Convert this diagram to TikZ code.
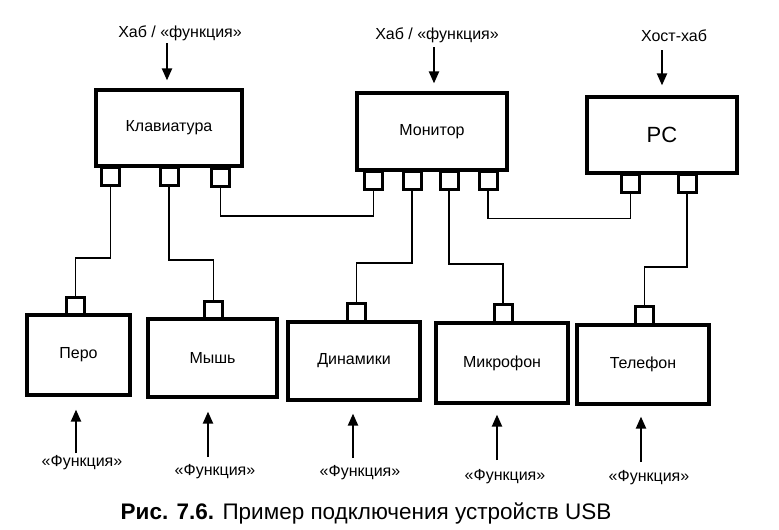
\documentclass[tikz,border=0pt]{standalone}
\usepackage{fontspec}
\setmainfont{Liberation Sans}
\usetikzlibrary{arrows.meta}
\tikzset{
  dev/.style={draw, line width=3.2pt, inner sep=0pt, font=\fontsize{16}{19}\selectfont},
  port/.style={draw, line width=3pt, minimum width=18pt, minimum height=18pt, inner sep=0pt},
  conn/.style={line width=1.7pt},
  feed/.style={line width=2.1pt, -{Triangle[width=10pt,length=12pt]}},
  lbl/.style={font=\fontsize{16}{19}\selectfont, inner sep=0pt},
}
\begin{document}
\begin{tikzpicture}[x=1pt,y=-1pt]
\useasboundingbox[fill=white] (0,0) rectangle (779,530);
% hubs
\node[dev, minimum width=146pt, minimum height=76pt] (kb) at (169,128) {Клавиатура};
\node[dev, minimum width=150pt, minimum height=77pt] (mon) at (432,131.5) {Монитор};
\node[dev, minimum width=150pt, minimum height=76pt, font=\fontsize{22}{26}\selectfont] (pc) at (662,135) {PC};
% devices
\node[dev, minimum width=103pt, minimum height=80pt] (pen) at (78.5,355) {Перо};
\node[dev, minimum width=129pt, minimum height=78pt] (mouse) at (212.5,358) {Мышь};
\node[dev, minimum width=132pt, minimum height=78pt] (din) at (354,361) {Динамики};
\node[dev, minimum width=132pt, minimum height=80pt] (mic) at (502,363) {Микрофон};
\node[dev, minimum width=132pt, minimum height=79pt] (tel) at (643,364.5) {Телефон};
% hub ports
\node[port] (kb1) at (110.5,176.5) {};
\node[port] (kb2) at (169,176.5) {};
\node[port] (kb3) at (220.5,177.5) {};
\node[port] (mon1) at (373.5,180) {};
\node[port] (mon2) at (412,180) {};
\node[port] (mon3) at (449,180) {};
\node[port] (mon4) at (488,180) {};
\node[port] (pc1) at (630.5,183) {};
\node[port] (pc2) at (687,183) {};
% device ports
\node[port] (penp) at (75.5,306) {};
\node[port] (mousep) at (213.5,310) {};
\node[port] (dinp) at (356.5,312) {};
\node[port] (micp) at (503,313) {};
\node[port] (telp) at (644.5,315) {};
% cable levels
\coordinate (h1) at (0,258);
\coordinate (h2) at (0,260);
\coordinate (h3) at (0,216);
\coordinate (h4) at (0,263);
\coordinate (h5) at (0,264);
\coordinate (h6) at (0,218.5);
\coordinate (h7) at (0,267);
% cables
\draw[conn] (kb1.south) -- (kb1.south |- h1) -| (penp.north);
\draw[conn] (kb2.south) -- (kb2.south |- h2) -| (mousep.north);
\draw[conn] (kb3.south) -- (kb3.south |- h3) -| (mon1.south);
\draw[conn] (mon2.south) -- (mon2.south |- h4) -| (dinp.north);
\draw[conn] (mon3.south) -- (mon3.south |- h5) -| (micp.north);
\draw[conn] (mon4.south) -- (mon4.south |- h6) -| (pc1.south);
\draw[conn] (pc2.south) -- (pc2.south |- h7) -| (telp.north);
% top labels and arrows
\node[lbl] (t1) at (180,33) {Хаб / «функция»};
\node[lbl] (t2) at (437,35) {Хаб / «функция»};
\node[lbl] (t3) at (674,36) {Хост-хаб};
\coordinate (a1) at (167,43);
\coordinate (a2) at (434,47);
\coordinate (a3) at (662,50);
\draw[feed, shorten >=8pt] (a1) -- (a1 |- kb.north);
\draw[feed, shorten >=8pt] (a2) -- (a2 |- mon.north);
\draw[feed, shorten >=10pt] (a3) -- (a3 |- pc.north);
% bottom labels and arrows
\node[lbl] (f1) at (82,463) {«Функция»};
\node[lbl] (f2) at (215,472) {«Функция»};
\node[lbl] (f3) at (360,473) {«Функция»};
\node[lbl] (f4) at (505,477) {«Функция»};
\node[lbl] (f5) at (649,478) {«Функция»};
\coordinate (b1) at (76,453);
\coordinate (b2) at (208,457);
\coordinate (b3) at (353,458);
\coordinate (b4) at (497,460);
\coordinate (b5) at (641,462);
\draw[feed, shorten >=13pt] (b1) -- (b1 |- pen.south);
\draw[feed, shorten >=13pt] (b2) -- (b2 |- mouse.south);
\draw[feed, shorten >=12pt] (b3) -- (b3 |- din.south);
\draw[feed, shorten >=10pt] (b4) -- (b4 |- mic.south);
\draw[feed, shorten >=11pt] (b5) -- (b5 |- tel.south);
% caption
\node[font=\fontsize{22.5}{26}\selectfont, inner sep=0pt] (cap) at (366,513) {\textbf{Рис. 7.6.} Пример подключения устройств USB};
\end{tikzpicture}
\end{document}
